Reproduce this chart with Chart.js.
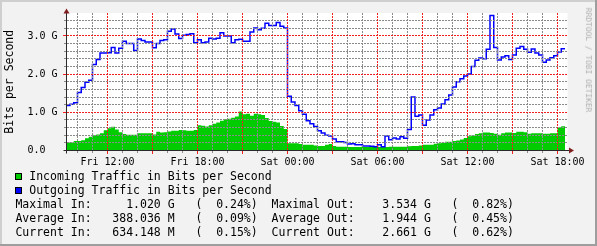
<!DOCTYPE html>
<html>
<head>
<meta charset="utf-8">
<script src="https://cdn.jsdelivr.net/npm/chart.js@4/dist/chart.umd.min.js"></script>
<style>
html,body{margin:0;padding:0;background:#f2f2f2;}
#wrap{position:relative;width:597px;height:246px;overflow:hidden;}
#c{position:absolute;left:0;top:0;}
.t{position:absolute;font-family:"DejaVu Sans Mono",monospace;font-size:11.5px;line-height:14px;white-space:pre;color:#000;}
.box{position:absolute;width:7px;height:7px;box-sizing:border-box;border:1px solid #000;}
#wm{position:absolute;left:588.3px;top:60px;transform:translate(-50%,-50%) rotate(90deg);font-family:"DejaVu Sans Mono",monospace;font-size:7.9px;line-height:1;color:#b0b0b0;white-space:pre;}
</style>
</head>
<body>
<div id="wrap">
<canvas id="c" width="597" height="246"></canvas>
<div id="wm">RRDTOOL / TOBI OETIKER</div>
<div class="box" style="left:15px;top:172.5px;background:#00cc00"></div>
<div class="box" style="left:15px;top:186.5px;background:#0000ff"></div>
<div class="t" style="left:15.4px;top:169.2px">  Incoming Traffic in Bits per Second</div>
<div class="t" style="left:15.4px;top:183.2px">  Outgoing Traffic in Bits per Second</div>
<div class="t" style="left:15.4px;top:197.2px">Maximal In:     1.020 G   (  0.24%)  Maximal Out:    3.534 G   (  0.82%)</div>
<div class="t" style="left:15.4px;top:211.2px">Average In:   388.036 M   (  0.09%)  Average Out:    1.944 G   (  0.45%)</div>
<div class="t" style="left:15.4px;top:225.2px">Current In:   634.148 M   (  0.15%)  Current Out:    2.661 G   (  0.62%)</div>
</div>
<script>
// ---- data (values in Gbit/s), one sample every 15 minutes, hours counted from Fri 00:00 ----
const sampleStartHour = 9.25;
const sampleStepHours = 0.25;

const outgoingG = [
  1.18,1.21,1.25,1.52,1.65,1.79,1.84,2.25,2.38,2.55,
  2.55,2.56,2.70,2.55,2.68,2.86,2.80,2.80,2.62,2.92,
  2.88,2.84,2.84,2.69,2.80,2.88,2.90,3.12,3.18,3.05,
  2.93,3.02,3.04,3.06,2.82,2.90,2.82,2.84,2.94,2.92,
  2.94,3.08,3.00,3.00,2.82,2.90,2.91,2.86,2.86,3.10,
  3.21,3.16,3.20,3.33,3.27,3.27,3.35,3.25,3.21,1.42,
  1.27,1.18,1.04,0.95,0.78,0.70,0.63,0.52,0.46,0.40,
  0.38,0.30,0.23,0.23,0.21,0.17,0.18,0.15,0.15,0.12,
  0.12,0.11,0.10,0.15,0.10,0.38,0.28,0.33,0.30,0.36,
  0.32,0.55,1.40,0.90,0.93,0.66,0.80,0.93,1.07,1.11,
  1.22,1.33,1.45,1.66,1.80,1.88,1.95,2.00,2.20,2.36,
  2.42,2.40,2.65,3.534,2.70,2.37,2.45,2.48,2.38,2.50,
  2.68,2.72,2.65,2.57,2.66,2.55,2.50,2.31,2.37,2.43,
  2.48,2.58,2.661
];

const incomingG = [
  0.21,0.21,0.25,0.25,0.27,0.32,0.36,0.40,0.42,0.45,
  0.53,0.58,0.62,0.55,0.48,0.43,0.41,0.41,0.41,0.45,
  0.45,0.45,0.45,0.42,0.49,0.47,0.48,0.50,0.52,0.52,
  0.54,0.53,0.52,0.52,0.54,0.66,0.65,0.63,0.66,0.70,
  0.73,0.78,0.82,0.83,0.86,0.89,1.02,0.95,0.96,0.91,
  0.96,0.95,0.93,0.85,0.77,0.75,0.73,0.64,0.56,0.19,
  0.19,0.19,0.17,0.15,0.15,0.15,0.13,0.12,0.12,0.15,
  0.17,0.12,0.10,0.10,0.10,0.09,0.09,0.09,0.09,0.09,
  0.09,0.09,0.09,0.09,0.09,0.09,0.10,0.10,0.10,0.10,
  0.10,0.11,0.12,0.12,0.13,0.15,0.15,0.15,0.18,0.19,
  0.20,0.23,0.23,0.25,0.26,0.29,0.33,0.37,0.39,0.43,
  0.45,0.47,0.47,0.46,0.44,0.41,0.45,0.47,0.47,0.46,
  0.49,0.49,0.48,0.44,0.45,0.45,0.45,0.44,0.44,0.45,
  0.45,0.60,0.634
];

// ---- axis ticks ----
const xTickHours  = [12, 18, 24, 30, 36, 42];
const xTickLabels = ["Fri 12:00", "Fri 18:00", "Sat 00:00", "Sat 06:00", "Sat 12:00", "Sat 18:00"];
const yTickValues = [0, 1, 2, 3];
const yTickLabels = ["0.0  ", "1.0 G", "2.0 G", "3.0 G"];

const xMinHour = 9.2667, xMaxHour = 42.6667;
const yMaxG = 3.6;

function toPoints(arr) {
  const pts = arr.map((v, i) => ({ x: sampleStartHour + i * sampleStepHours, y: v }));
  pts.push({ x: sampleStartHour + arr.length * sampleStepHours, y: arr[arr.length - 1] });
  return pts;
}

const hourGrid = [];
for (let h = Math.ceil(xMinHour); h <= Math.floor(xMaxHour); h++) hourGrid.push(h);
const yGrid = [];
for (let i = 1; i * 0.2 < yMaxG - 0.1; i++) yGrid.push(Math.round(i * 2) / 10);

const GRID = '#8a8a8a';
const MGRID = '#ee2020';
const FONT = 'DejaVu Sans Mono';

const isMajorX = h => h % 3 === 0;
const isMajorY = v => Math.abs(v - Math.round(v)) < 1e-6;

const framePlugin = {
  id: 'frame',
  beforeDraw(chart) {
    const { ctx, chartArea: a, width, height } = chart;
    ctx.save();
    ctx.fillStyle = '#f2f2f2';
    ctx.fillRect(0, 0, width, height);
    ctx.fillStyle = '#ffffff';
    ctx.fillRect(a.left, a.top, a.right - a.left, a.bottom - a.top);
    ctx.fillStyle = '#cfcfcf';
    ctx.fillRect(0, 0, width, 2);
    ctx.fillRect(0, 0, 2, height);
    ctx.fillStyle = '#9e9e9e';
    ctx.fillRect(0, height - 2, width, 2);
    ctx.fillRect(width - 2, 0, 2, height);
    ctx.restore();
  },
  afterDatasetsDraw(chart) {
    // dotted grid drawn above the data, as in the original
    const { ctx, chartArea: a, scales } = chart;
    const xs = scales.x, ys = scales.y;
    const top = Math.round(a.top), bottom = Math.round(a.bottom - 0.5);
    const left = Math.round(a.left - 0.5), right = Math.round(a.right);
    ctx.save();
    ctx.lineWidth = 1;
    ctx.setLineDash([2, 1]);
    [false, true].forEach(major => {
      const col = major ? MGRID : GRID;
      ctx.strokeStyle = col;
      ctx.fillStyle = col;
      hourGrid.forEach(h => {
        if (isMajorX(h) !== major) return;
        const px = Math.round(xs.getPixelForValue(h) - 0.5);
        ctx.beginPath();
        ctx.moveTo(px + 0.5, top);
        ctx.lineTo(px + 0.5, bottom);
        ctx.stroke();
        ctx.fillRect(px, bottom + 1, 1, major ? 3 : 2);
      });
      yGrid.forEach(v => {
        if (isMajorY(v) !== major) return;
        const py = Math.round(ys.getPixelForValue(v) - 0.5);
        ctx.beginPath();
        ctx.moveTo(left + 1, py + 0.5);
        ctx.lineTo(right, py + 0.5);
        ctx.stroke();
        ctx.fillRect(left - (major ? 3 : 2), py, major ? 3 : 2, 1);
      });
    });
    ctx.restore();
  },
  afterDraw(chart) {
    const { ctx, chartArea: a } = chart;
    const x0 = Math.round(a.left - 0.5) + 0.5, y0 = Math.round(a.bottom - 0.5) + 0.5;
    ctx.save();
    ctx.strokeStyle = '#2a2a2a';
    ctx.lineWidth = 1;
    ctx.beginPath();
    ctx.moveTo(x0, y0 + 3); ctx.lineTo(x0, a.top);
    ctx.moveTo(x0 - 3, y0); ctx.lineTo(a.right + 2, y0);
    ctx.stroke();
    ctx.fillStyle = '#801f1f';
    ctx.beginPath();
    ctx.moveTo(x0 - 3, a.top + 0.5); ctx.lineTo(x0 + 3, a.top + 0.5); ctx.lineTo(x0, a.top - 4.5); ctx.closePath();
    ctx.fill();
    ctx.beginPath();
    ctx.moveTo(a.right + 1.5, y0 - 3); ctx.lineTo(a.right + 1.5, y0 + 3); ctx.lineTo(a.right + 6.5, y0); ctx.closePath();
    ctx.fill();
    ctx.restore();
  }
};

new Chart(document.getElementById('c'), {
  type: 'line',
  data: {
    datasets: [
      { label: 'Outgoing Traffic in Bits per Second', data: toPoints(outgoingG),
        borderColor: '#0000ff', borderWidth: 1.5, pointRadius: 0, stepped: true, fill: false, order: 0 },
      { label: 'Incoming Traffic in Bits per Second', data: toPoints(incomingG),
        borderColor: '#00cc00', backgroundColor: '#00cc00', borderWidth: 0, pointRadius: 0,
        stepped: true, fill: 'origin', order: 1 }
    ]
  },
  options: {
    responsive: false, animation: false, devicePixelRatio: 1,
    layout: { padding: { left: 0, top: 13, right: 29.5, bottom: 75.5 } },
    plugins: { legend: { display: false }, tooltip: { enabled: false } },
    scales: {
      x: {
        type: 'linear', min: xMinHour, max: xMaxHour,
        afterBuildTicks(s) { s.ticks = hourGrid.map(v => ({ value: v })); },
        afterFit(s) { s.height = 20; },
        grid: { display: false, tickLength: 3 },
        border: { display: false },
        ticks: {
          autoSkip: false, maxRotation: 0, minRotation: 0, padding: 3,
          color: '#000', font: { family: FONT, size: 10 },
          callback: v => { const i = xTickHours.indexOf(v); return i >= 0 ? xTickLabels[i] : ''; }
        }
      },
      y: {
        min: 0, max: yMaxG,
        afterBuildTicks(s) { s.ticks = [0].concat(yGrid).map(v => ({ value: v })); },
        afterFit(s) { s.width = 66.5; },
        grid: { display: false, tickLength: 3 },
        border: { display: false },
        ticks: {
          autoSkip: false, padding: 6, color: '#000', font: { family: FONT, size: 10 },
          callback: v => { const i = yTickValues.indexOf(v); return i >= 0 ? yTickLabels[i] : ''; }
        },
        title: {
          display: true, text: 'Bits per Second', color: '#000',
          font: { family: FONT, size: 11.5 }, padding: { top: 3, bottom: 0 }
        }
      }
    }
  },
  plugins: [framePlugin]
});
</script>
</body>
</html>
